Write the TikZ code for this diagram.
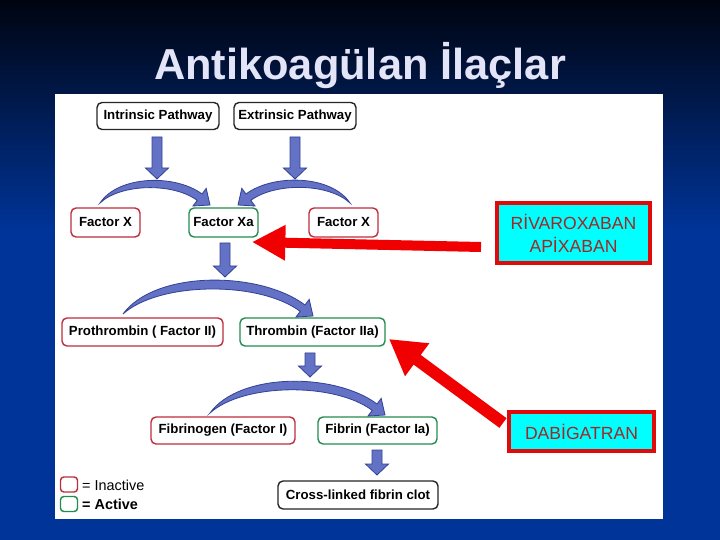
\documentclass[tikz,border=0pt]{standalone}
\usepackage{fontspec}
\setmainfont{Liberation Sans}
\usetikzlibrary{arrows.meta}

\definecolor{slidetop}{RGB}{0,4,16}
\definecolor{slideblue}{RGB}{0,52,152}
\definecolor{titlecol}{RGB}{228,228,248}
\definecolor{inactred}{RGB}{190,45,60}
\definecolor{actgreen}{RGB}{35,140,80}
\definecolor{arrowfill}{RGB}{100,114,198}
\definecolor{arrowline}{RGB}{52,66,150}
\definecolor{drugtext}{RGB}{160,40,40}
\definecolor{drugframe}{RGB}{225,10,10}
\definecolor{drugcyan}{RGB}{0,255,255}
\definecolor{bigred}{RGB}{240,0,0}

% straight block arrow pointing down: x, top y, tip y
\newcommand{\downblock}[3]{\filldraw[bluearrow] ({#1-5},#2) -- ({#1+5},#2) -- ({#1+5},{#3-11}) -- ({#1+11.5},{#3-11}) -- (#1,#3) -- ({#1-11.5},{#3-11}) -- ({#1-5},{#3-11}) -- cycle;}
% bent arrow: start x, start y, span, direction (1 right, -1 left)
\newcommand{\bendarrow}[4]{%
  \begin{scope}[shift={(#1,#2)},xscale=#4]
    \filldraw[bluearrow] (0,0)
      .. controls ({0.17*#3},{-0.2*#3-6}) and ({0.76*#3-8},{-0.18*#3-9}) .. ({#3-8},-9)
      -- ({#3-3.8},-14.6) -- (#3,2) -- ({#3-17},3) -- ({#3-12.8},-2.6)
      .. controls ({0.784*#3-12.8},{-0.162*#3-2.6}) and ({0.19*#3},{-0.16*#3-2}) .. cycle;
  \end{scope}}

\begin{document}
\begin{tikzpicture}[x=0.03cm,y=-0.03cm,
    box/.style={draw,rounded corners=0.15cm,line width=1.2pt,fill=white,inner sep=0pt,
      font=\fontsize{11.3}{13.5}\selectfont\bfseries},
    redbox/.style={box,draw=inactred},
    greenbox/.style={box,draw=actgreen},
    blackbox/.style={box,draw=black!85},
    drugbox/.style={draw=drugframe,fill=drugcyan,line width=0.11cm,inner sep=0pt,align=center,
      text=drugtext,font=\fontsize{15}{19.6}\selectfont},
    bluearrow/.style={fill=arrowfill,draw=arrowline,line width=0.7pt},
    redarrow/.style={draw=bigred,line width=0.3cm,-{Triangle[width=1.0cm,length=1.0cm]}}]
\useasboundingbox (0,0) rectangle (720,540);
% slide background
\fill[slideblue] (0,0) rectangle (720,540);
\shade[top color=slidetop,bottom color=slideblue] (0,0) rectangle (720,230);
\fill[white] (55,94) rectangle (663,519);
\node[anchor=base,text=titlecol,font=\fontsize{37}{44}\selectfont\bfseries] (title) at (360,80) {Antikoagülan İlaçlar};

% boxes
\node[blackbox,minimum width=3.66cm,minimum height=0.81cm] (ip) at (158,116) {Intrinsic Pathway};
\node[blackbox,minimum width=3.66cm,minimum height=0.81cm] (ep) at (295,116) {Extrinsic Pathway};
\node[redbox,minimum width=2.07cm,minimum height=0.87cm] (fxl) at (105.5,222.5) {Factor X};
\node[greenbox,minimum width=2.07cm,minimum height=0.87cm] (fxa) at (223.5,222.5) {Factor Xa};
\node[redbox,minimum width=2.07cm,minimum height=0.87cm] (fxr) at (343.5,222.5) {Factor X};
\node[redbox,minimum width=4.83cm,minimum height=0.84cm] (pro) at (142.5,332) {Prothrombin ( Factor II)};
\node[greenbox,minimum width=4.35cm,minimum height=0.84cm] (thr) at (312.5,332) {Thrombin (Factor IIa)};
\node[redbox,minimum width=4.32cm,minimum height=0.81cm] (fbg) at (223,430.5) {Fibrinogen (Factor I)};
\node[greenbox,minimum width=3.57cm,minimum height=0.81cm] (fbr) at (377.5,430.5) {Fibrin (Factor Ia)};
\node[blackbox,minimum width=4.8cm,minimum height=0.84cm] (clot) at (358,495) {Cross-linked fibrin clot};

% legend
\node[redbox,rounded corners=0.1cm,minimum width=0.51cm,minimum height=0.45cm] (keyred) at (69,484.5) {};
\node[greenbox,rounded corners=0.1cm,minimum width=0.51cm,minimum height=0.45cm] (keygreen) at (69,504) {};
\node[anchor=base west,inner sep=0pt,font=\fontsize{12.3}{14}\selectfont] (keyredtxt) at (82,490) {= Inactive};
\node[anchor=base west,inner sep=0pt,font=\fontsize{12.3}{14}\selectfont\bfseries] (keygreentxt) at (82,509) {= Active};

% pathway arrows
\downblock{157}{137}{179}
\downblock{295}{137}{179}
\bendarrow{100}{203}{110}{1}
\bendarrow{350}{203}{112}{-1}
\downblock{225}{243}{277}
\bendarrow{123}{314}{190}{1}
\downblock{310}{353}{377}
\bendarrow{210}{413}{175}{1}
\downblock{377}{450}{475}

% drugs
\node[drugbox,minimum width=4.59cm,minimum height=1.8cm] (riva) at (573.5,233) {RİVAROXABAN\\APİXABAN};
\node[drugbox,minimum width=4.35cm,minimum height=1.17cm] (dabi) at (581.5,431.5) {DABİGATRAN};
\coordinate (rivatail) at (481,247);
\coordinate (rivatip) at (252,242);
\coordinate (dabitail) at (503,423);
\coordinate (dabitip) at (389,339);
\draw[redarrow] (rivatail) -- (rivatip);
\draw[redarrow,line width=0.36cm,-{Triangle[width=1.15cm,length=1.05cm]}] (dabitail) -- (dabitip);
\end{tikzpicture}
\end{document}
